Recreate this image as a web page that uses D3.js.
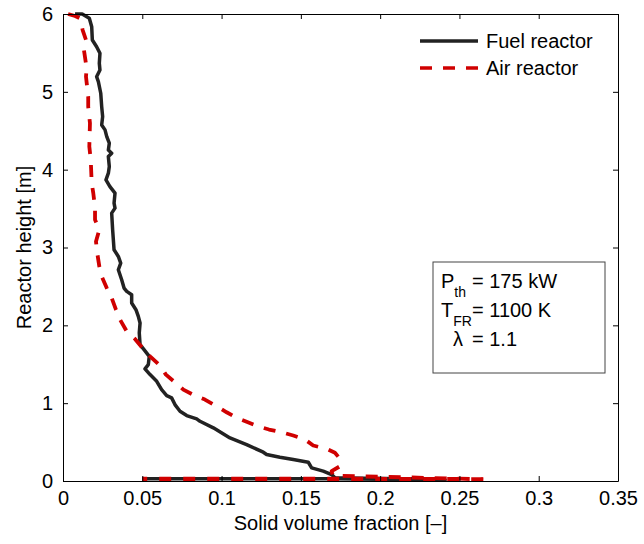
<!DOCTYPE html>
<html>
<head>
<meta charset="utf-8">
<script src="https://d3js.org/d3.v7.min.js"></script>
<style>
  body { margin: 0; background: #fff; }
  text { font-family: "Liberation Sans", Arial, Helvetica, sans-serif; }
</style>
</head>
<body>
<div id="chart"></div>
<script>
// fuel reactor profile (solid volume fraction, height in m)
var fuelX = [0.0076, 0.0121, 0.0166, 0.0181, 0.0185, 0.0212, 0.0233, 0.0229, 0.0233, 0.0212, 0.0223, 0.0238, 0.0244, 0.0250, 0.0244, 0.0265, 0.0276, 0.0292, 0.0286, 0.0307, 0.0286, 0.0292, 0.0286, 0.0271, 0.0296, 0.0328, 0.0322, 0.0328, 0.0307, 0.0313, 0.0322, 0.0349, 0.0364, 0.0349, 0.0370, 0.0385, 0.0402, 0.0433, 0.0433, 0.0460, 0.0475, 0.0486, 0.0481, 0.0486, 0.0511, 0.0544, 0.0538, 0.0517, 0.0549, 0.0591, 0.0622, 0.0654, 0.0685, 0.0706, 0.0738, 0.0780, 0.0843, 0.0864, 0.0948, 0.1053, 0.1158, 0.1263, 0.1284, 0.1368, 0.1452, 0.1547, 0.1568, 0.1641, 0.1694, 0.1715, 0.19, 0.215, 0.238, 0.241, 0.17, 0.05]
var fuelH = [6.0, 6.0, 5.945, 5.837, 5.666, 5.580, 5.495, 5.367, 5.281, 5.195, 5.131, 4.982, 4.810, 4.682, 4.575, 4.511, 4.425, 4.340, 4.254, 4.212, 4.168, 4.040, 3.955, 3.869, 3.783, 3.699, 3.570, 3.506, 3.442, 3.228, 2.971, 2.885, 2.800, 2.714, 2.586, 2.479, 2.436, 2.393, 2.287, 2.201, 2.115, 2.030, 1.902, 1.752, 1.688, 1.602, 1.495, 1.440, 1.367, 1.281, 1.174, 1.097, 1.068, 0.982, 0.896, 0.841, 0.798, 0.767, 0.683, 0.554, 0.468, 0.370, 0.340, 0.305, 0.276, 0.241, 0.169, 0.126, 0.083, 0.041, 0.035, 0.03, 0.03, 0.015, 0.028, 0.028]

// air reactor profile
var airX = [0.0032, 0.0076, 0.0107, 0.0124, 0.0145, 0.0132, 0.0149, 0.0145, 0.0159, 0.0159, 0.0170, 0.0166, 0.0175, 0.0181, 0.0191, 0.0202, 0.0202, 0.0229, 0.0208, 0.0216, 0.0229, 0.0244, 0.0276, 0.0307, 0.0334, 0.0360, 0.0402, 0.0454, 0.0506, 0.0549, 0.0612, 0.0649, 0.0706, 0.0759, 0.0832, 0.0895, 0.0969, 0.1032, 0.1095, 0.1158, 0.1230, 0.1299, 0.1379, 0.1452, 0.1526, 0.1578, 0.1662, 0.1715, 0.1740, 0.1747, 0.1694, 0.1702, 0.19, 0.22, 0.25, 0.265, 0.17, 0.05]
var airH = [6.0, 5.974, 5.945, 5.794, 5.666, 5.537, 5.307, 5.195, 4.938, 4.810, 4.597, 4.297, 4.126, 3.827, 3.699, 3.506, 3.356, 3.228, 3.078, 2.929, 2.757, 2.628, 2.479, 2.351, 2.201, 2.073, 1.922, 1.825, 1.697, 1.602, 1.482, 1.367, 1.268, 1.174, 1.097, 1.046, 0.960, 0.883, 0.811, 0.760, 0.703, 0.661, 0.626, 0.584, 0.533, 0.456, 0.413, 0.362, 0.302, 0.190, 0.126, 0.071, 0.058, 0.045, 0.03, 0.02, 0.026, 0.026]

var xTicks = [0, 0.05, 0.1, 0.15, 0.2, 0.25, 0.3, 0.35]
var yTicks = [0, 1, 2, 3, 4, 5, 6]
var seriesNames = ["Fuel reactor", "Air reactor"]
var infoLines = [["P", "th", "= 175 kW"], ["T", "FR", "= 1100 K"], ["\u03bb", "", "= 1.1"]]

var width = 644,
  height = 544,
  margin = {left: 63, right: 26, top: 14, bottom: 63}

var svg = d3.select("#chart")
  .append("svg")
  .attr("width", width)
  .attr("height", height)

var x = d3.scaleLinear().domain([0, 0.35]).range([margin.left, width - margin.right])
var y = d3.scaleLinear().domain([0, 6]).range([height - margin.bottom, margin.top])

svg.append("clipPath").attr("id", "clip")
  .append("rect")
  .attr("x", x(0)).attr("y", y(6) - 3)
  .attr("width", x(0.35) - x(0)).attr("height", y(0) - y(6) + 3)

var line = d3.line()
  .x(function(d) { return x(d[0]) })
  .y(function(d) { return y(d[1]) })

var fuel = fuelX.map(function(v, i) { return [v, fuelH[i]] })
var air = airX.map(function(v, i) { return [v, airH[i]] })

var plot = svg.append("g").attr("clip-path", "url(#clip)")

plot.append("path")
  .datum(fuel)
  .attr("class", "fuel")
  .attr("d", line)
  .attr("fill", "none")
  .attr("stroke", "#222")
  .attr("stroke-width", 3.5)
  .attr("stroke-linejoin", "round")

// air curve split in two pieces so the dashes on the flat bottom start fresh
var airMain = air.slice(0, air.length - 2)
var airBottom = air.slice(air.length - 3)

plot.append("path")
  .datum(airMain)
  .attr("d", line)
  .attr("fill", "none")
  .attr("stroke", "#d00000")
  .attr("stroke-width", 3.8)
  .attr("stroke-linejoin", "round")
  .attr("stroke-dasharray", "12,11")

plot.append("path")
  .datum(airBottom)
  .attr("d", line)
  .attr("fill", "none")
  .attr("stroke", "#d00000")
  .attr("stroke-width", 4.5)
  .attr("stroke-dasharray", "12,12")

// axes, matlab style: ticks inside, box on all sides
var fs = "20px"
svg.append("g")
  .attr("transform", "translate(0," + y(0) + ")")
  .call(d3.axisBottom(x).tickValues(xTicks).tickSizeInner(-5).tickSizeOuter(0).tickPadding(10).tickFormat(d3.format("")))
  .call(function(g) { g.selectAll("text").style("font-size", fs).attr("fill", "#000") })

svg.append("g")
  .attr("transform", "translate(0," + y(6) + ")")
  .call(d3.axisTop(x).tickValues(xTicks).tickSizeInner(-5).tickSizeOuter(0).tickFormat(""))

svg.append("g")
  .attr("transform", "translate(" + x(0) + ",0)")
  .call(d3.axisLeft(y).tickValues(yTicks).tickSizeInner(-5).tickSizeOuter(0).tickPadding(10).tickFormat(d3.format("")))
  .call(function(g) { g.selectAll("text").style("font-size", fs).attr("fill", "#000") })

svg.append("g")
  .attr("transform", "translate(" + x(0.35) + ",0)")
  .call(d3.axisRight(y).tickValues(yTicks).tickSizeInner(-5).tickSizeOuter(0).tickFormat(""))

svg.selectAll(".domain").attr("stroke", "#000")
svg.selectAll(".tick line").attr("stroke", "#000")

svg.append("text")
  .attr("x", (x(0) + x(0.35)) / 2)
  .attr("y", height - 14)
  .attr("text-anchor", "middle")
  .style("font-size", fs)
  .text("Solid volume fraction [\u2013]")

svg.append("text")
  .attr("transform", "translate(31," + (y(3)) + ") rotate(-90)")
  .attr("text-anchor", "middle")
  .style("font-size", fs)
  .text("Reactor height [m]")

// legend
var legend = svg.append("g").attr("transform", "translate(420,41)")
seriesNames.forEach(function(name, i) {
  legend.append("line")
    .attr("x1", 0).attr("x2", 58)
    .attr("y1", i * 27).attr("y2", i * 27)
    .attr("stroke", i == 0 ? "#222" : "#d00000")
    .attr("stroke-width", 3.5)
    .attr("stroke-dasharray", i == 0 ? null : "12,11")
  legend.append("text")
    .attr("x", 66).attr("y", i * 27 + 7)
    .style("font-size", fs)
    .text(name)
})

// info box
var info = svg.append("g").attr("transform", "translate(433,262)")
info.append("rect")
  .attr("width", 172).attr("height", 111)
  .attr("fill", "#fff")
  .attr("stroke", "#444")
  .attr("stroke-width", 1)

infoLines.forEach(function(l, i) {
  var t = info.append("text")
    .attr("x", l[1] ? 8 : 20)
    .attr("y", 26 + i * 29)
    .style("font-size", fs)
  t.append("tspan").text(l[0])
  if (l[1]) {
    t.append("tspan").attr("dy", 9).style("font-size", "14px").text(l[1])
  }
  info.append("text")
    .attr("x", 39)
    .attr("y", 26 + i * 29)
    .style("font-size", fs)
    .text(l[2])
})
</script>
</body>
</html>
